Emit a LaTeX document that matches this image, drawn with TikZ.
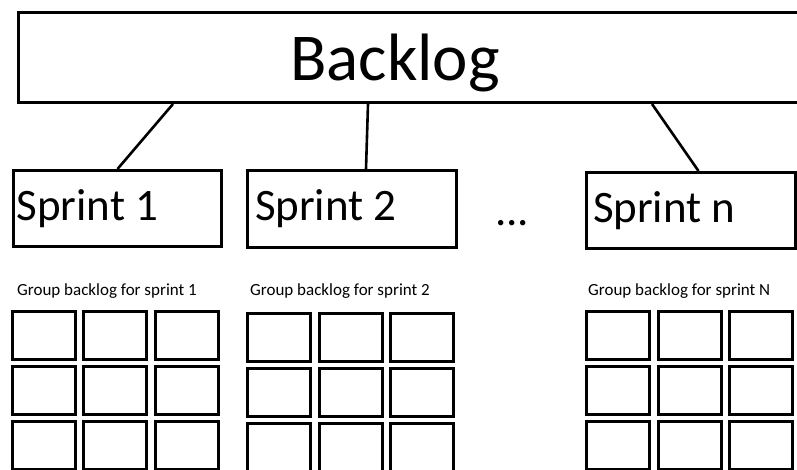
\documentclass[tikz,border=0pt]{standalone}
\usepackage{fontspec}
\setmainfont{Carlito}
\usepackage{tikz}
\usetikzlibrary{shapes, positioning}
\tikzstyle{bigbox} = [draw=black, line width=3pt, rectangle, inner sep=0pt]
\tikzstyle{sprintbox} = [draw=black, line width=3pt, rectangle, align=flush left, font=\fontsize{45}{54}\selectfont]
\tikzstyle{cell} = [draw=black, line width=3pt, rectangle, minimum width=63pt, minimum height=48pt, inner sep=0pt]
\tikzstyle{grouptitle} = [anchor=base west, inner sep=0pt, font=\fontsize{17}{20}\selectfont]
\tikzstyle{link} = [draw=black, line width=2.6pt]

\begin{document}
\begin{tikzpicture}[x=1pt, y=-1pt]
	\useasboundingbox (0,0) rectangle (797,469);
	\clip (0,0) rectangle (797,469);
	\node [bigbox, anchor=north west, minimum width=820pt, minimum height=90pt] (backlog) at (17,11) {};
	\node [anchor=base, inner sep=0pt, font=\fontsize{67}{80}\selectfont] (backlogtext) at (395,80) {Backlog};
	\node [sprintbox, anchor=north west, inner xsep=3pt, text width=202pt, minimum height=76pt] (sprint1) at (12,169) {Sprint 1};
	\node [sprintbox, anchor=north west, inner xsep=7.5pt, text width=194pt, minimum height=77pt] (sprint2) at (246,169) {Sprint 2};
	\node [anchor=base west, inner sep=0pt, font=\fontsize{45}{54}\selectfont] (dots) at (495,225) {...};
	\node [sprintbox, anchor=north west, inner xsep=6.5pt, text width=196pt, minimum height=76pt] (sprintn) at (585,171) {Sprint n};
	\draw [link] ([xshift=156pt]backlog.south west) -- (sprint1.north);
	\draw [link] ([xshift=351pt]backlog.south west) -- ([xshift=14pt]sprint2.north);
	\draw [link] ([xshift=635pt]backlog.south west) -- ([xshift=7.5pt]sprintn.north);
	\node [grouptitle] (group1) at (17,295) {Group backlog for sprint 1};
	\node [grouptitle] (group2) at (250,295) {Group backlog for sprint 2};
	\node [grouptitle] (groupn) at (588,295) {Group backlog for sprint N};
	\foreach \g/\gx/\gy in {1/43.5/335.5, 2/279/337.5, n/618/335.5}
		\foreach \r in {0,1,2}
			\foreach \c in {0,1,2}
				\node [cell] (cell\g-\r\c) at (\gx+71.5*\c, \gy+55*\r) {};
\end{tikzpicture}
\end{document}
